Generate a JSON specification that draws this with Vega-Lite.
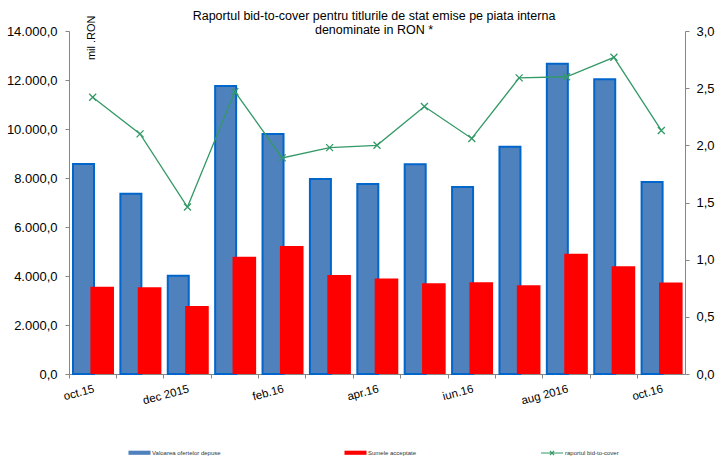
{
  "$schema": "https://vega.github.io/schema/vega-lite/v6.json",
  "width": 616,
  "height": 343,
  "autosize": {"type": "none"},
  "padding": {"left": 69, "top": 31, "right": 30, "bottom": 83},
  "title": {
    "text": ["Raportul bid-to-cover pentru titlurile de stat emise pe piata interna", "denominate in RON *"],
    "fontSize": 12.5,
    "font": "Liberation Sans",
    "fontWeight": "normal",
    "color": "#000000",
    "lineHeight": 14,
    "anchor": "middle",
    "offset": -21,
    "dx": -3
  },
  "config": {
    "locale": {"number": {"decimal": ",", "thousands": ".", "grouping": [3], "currency": ["", ""]}},
    "view": {"stroke": null},
    "font": "Liberation Sans",
    "axis": {"labelFont": "Liberation Sans", "labelColor": "#000000", "domainColor": "#868686", "tickColor": "#868686", "grid": false}
  },
  "data": {
    "values": [
      {"luna": "oct.15", "oferte": 8570, "acceptate": 3560, "raport": 2.42},
      {"luna": "nov.15", "oferte": 7360, "acceptate": 3540, "raport": 2.10},
      {"luna": "dec 2015", "oferte": 4010, "acceptate": 2780, "raport": 1.46},
      {"luna": "ian.16", "oferte": 11760, "acceptate": 4790, "raport": 2.47},
      {"luna": "feb.16", "oferte": 9800, "acceptate": 5220, "raport": 1.89},
      {"luna": "mar.16", "oferte": 7960, "acceptate": 4040, "raport": 1.98},
      {"luna": "apr.16", "oferte": 7760, "acceptate": 3900, "raport": 2.00},
      {"luna": "mai.16", "oferte": 8560, "acceptate": 3700, "raport": 2.34},
      {"luna": "iun.16", "oferte": 7630, "acceptate": 3750, "raport": 2.06},
      {"luna": "iul.16", "oferte": 9280, "acceptate": 3620, "raport": 2.59},
      {"luna": "aug 2016", "oferte": 12660, "acceptate": 4910, "raport": 2.60},
      {"luna": "sep.16", "oferte": 12030, "acceptate": 4400, "raport": 2.77},
      {"luna": "oct.16", "oferte": 7840, "acceptate": 3730, "raport": 2.13}
    ]
  },
  "encoding": {
    "x": {
      "field": "luna",
      "type": "nominal",
      "sort": null,
      "scale": {"type": "band", "paddingInner": 0, "paddingOuter": 0},
      "axis": {
        "title": null,
        "bandPosition": 0,
        "labelAngle": -15,
        "labelAlign": "right",
        "labelBaseline": "top",
        "labelFontSize": 11.5,
        "labelPadding": 5,
        "tickSize": 4,
        "labelExpr": "indexof(['oct.15','dec 2015','feb.16','apr.16','iun.16','aug 2016','oct.16'], datum.value) >= 0 ? datum.value : ''"
      }
    }
  },
  "layer": [
    {
      "layer": [
        {
          "mark": {"type": "bar", "width": 21, "xOffset": -9.2, "stroke": "#0066CC", "strokeWidth": 2},
          "encoding": {
            "y": {
              "field": "oferte",
              "type": "quantitative",
              "scale": {"domain": [0, 14000]},
              "axis": {
                "title": "mil .RON",
                "titleFontSize": 11,
                "titleFontWeight": "normal",
                "titleColor": "#000000",
                "titleAngle": -90,
                "titleX": 22,
                "titleY": -16,
                "titleAlign": "right",
                "titleBaseline": "middle",
                "values": [0, 2000, 4000, 6000, 8000, 10000, 12000, 14000],
                "format": ",.1f",
                "labelFontSize": 13,
                "tickSize": 4,
                "labelPadding": 8
              }
            },
            "fill": {
              "datum": "Valoarea ofertelor depuse",
              "scale": {
                "domain": ["Valoarea ofertelor depuse", "Sumele acceptate"],
                "range": ["#4F81BD", "#FF0000"]
              },
              "legend": {
                "orient": "none",
                "legendX": 63,
                "legendY": 414,
                "direction": "horizontal",
                "columns": 2,
                "title": null,
                "padding": 0,
                "labelFontSize": 6,
                "labelColor": "#333333",
                "symbolSize": 216,
                "labelOffset": 5,
                "columnPadding": 123,
                "symbolType": "M-1.5,-0.28H1.5V0.28H-1.5Z",
                "symbolStrokeWidth": 0,
                "symbolOpacity": 1
              }
            }
          }
        },
        {
          "mark": {"type": "bar", "width": 23.6, "xOffset": 9.5},
          "encoding": {
            "y": {"field": "acceptate", "type": "quantitative"},
            "fill": {"datum": "Sumele acceptate", "legend": null}
          }
        }
      ]
    },
    {
      "layer": [
        {
          "mark": {"type": "line", "strokeWidth": 1.3},
          "encoding": {
            "y": {
              "field": "raport",
              "type": "quantitative",
              "scale": {"domain": [0, 3]},
              "axis": {
                "orient": "right",
                "title": null,
                "values": [0, 0.5, 1, 1.5, 2, 2.5, 3],
                "format": ".1f",
                "labelFontSize": 13,
                "tickSize": 4,
                "labelPadding": 7
              }
            },
            "stroke": {
              "datum": "raportul bid-to-cover",
              "scale": {"domain": ["raportul bid-to-cover"], "range": ["#339966"]},
              "legend": {
                "orient": "none",
                "legendX": 475,
                "legendY": 414,
                "title": null,
                "padding": 0,
                "labelFontSize": 6,
                "labelColor": "#333333",
                "symbolSize": 216,
                "labelOffset": 5,
                "symbolType": "M-1.5,0H1.5M-0.28,-0.28L0.28,0.28M-0.28,0.28L0.28,-0.28",
                "symbolStrokeWidth": 1.2,
                "symbolFillColor": "transparent",
                "symbolOpacity": 1
              }
            }
          }
        },
        {
          "mark": {"type": "point", "shape": "M-1,-1L1,1M-1,1L1,-1", "filled": false, "size": 49, "strokeWidth": 1.3, "opacity": 1},
          "encoding": {
            "y": {"field": "raport", "type": "quantitative"},
            "stroke": {"datum": "raportul bid-to-cover", "legend": null}
          }
        }
      ]
    }
  ],
  "resolve": {"scale": {"y": "independent"}}
}
